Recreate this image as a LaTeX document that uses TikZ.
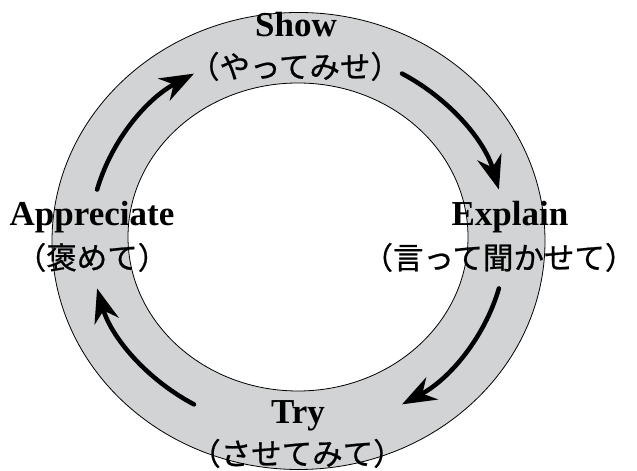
\documentclass[tikz,border=0pt]{standalone}
\usepackage{fontspec}
\setmainfont{Liberation Serif}
\newfontfamily\jpfont[FakeBold=0.7]{Noto Sans CJK JP}
\usetikzlibrary{arrows.meta}
\definecolor{ringgray}{RGB}{209,211,212}
\tikzset{
  en/.style={anchor=base, inner sep=0pt, font=\fontsize{35bp}{40bp}\selectfont\bfseries},
  jp/.style={anchor=base, inner sep=0pt, font=\fontsize{30.5bp}{36bp}\selectfont\jpfont},
  cyc/.style={line width=4.5bp, line cap=round, -{Stealth[length=34bp,width=25bp,inset=11bp]}},
  rim/.style={draw=black, line width=0.8bp}
}
\begin{document}
\begin{tikzpicture}[x=1bp,y=1bp]
\useasboundingbox (0,0) rectangle (637,471);
% ring
\coordinate (oc) at (298.5,230);
\coordinate (ic) at (298,234);
\fill[ringgray, even odd rule] (oc) ellipse[x radius=246.5bp, y radius=228.5bp]
  (ic) ellipse[x radius=170bp, y radius=154bp];
\draw[rim] (oc) ellipse[x radius=246.5bp, y radius=228.5bp];
\draw[rim] (ic) ellipse[x radius=170bp, y radius=154bp];
% arrow start points on the middle ellipse (centre (298,232), radii 208 and 191)
\coordinate (a1) at (97.1,281.4);
\coordinate (a2) at (402,397.4);
\coordinate (a3) at (498.9,182.6);
\coordinate (a4) at (194,66.6);
\draw[cyc] (a1) arc[start angle=165, end angle=120, x radius=208bp, y radius=191bp];
\draw[cyc] (a2) arc[start angle=60, end angle=15, x radius=208bp, y radius=191bp];
\draw[cyc] (a3) arc[start angle=-15, end angle=-60, x radius=208bp, y radius=191bp];
\draw[cyc] (a4) arc[start angle=-120, end angle=-165, x radius=208bp, y radius=191bp];
% labels
\node[en] (show) at (296,434) {Show};
\node[jp] (showjp) at (295,393) {（やってみせ）};
\node[en] (expl) at (510,245) {Explain};
\node[jp] (expljp) at (499,202) {（言って聞かせて）};
\node[en] (try) at (298,47) {Try};
\node[jp] (tryjp) at (297,6) {（させてみて）};
\node[en] (appr) at (92,245) {Appreciate};
\node[jp] (apprjp) at (92,202) {（褒めて）};
\end{tikzpicture}
\end{document}
